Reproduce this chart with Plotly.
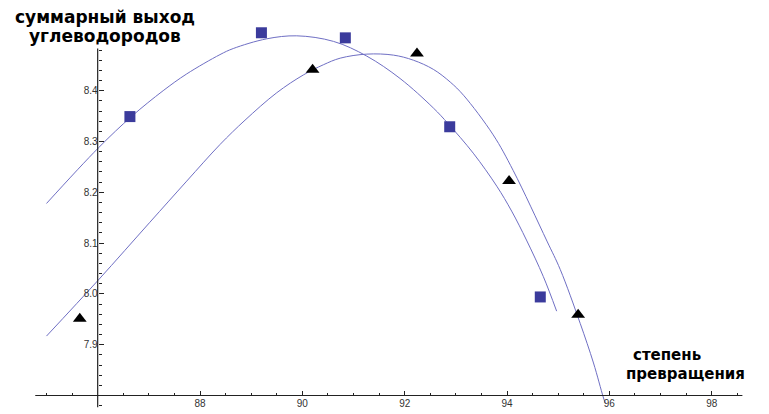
import numpy as np
import plotly.graph_objects as go

# measured points (squares) and fitted curve
sq_x = [86.63, 89.20, 90.84, 92.88, 94.65]
sq_y = [8.349, 8.514, 8.504, 8.329, 7.994]

tri_x = [85.65, 90.20, 92.24, 94.04, 95.39]
tri_y = [7.951, 8.441, 8.473, 8.222, 7.959]

c1_x = [85.00, 86.01, 86.67, 87.28, 87.74, 88.39, 88.65, 89.30, 89.89, 90.61,
        91.26, 91.91, 92.56, 92.85, 93.34, 93.80, 94.09, 94.38, 94.71, 94.97]
c1_y = [8.178, 8.287, 8.350, 8.400, 8.433, 8.471, 8.483, 8.502, 8.508, 8.497,
        8.468, 8.424, 8.366, 8.335, 8.277, 8.212, 8.163, 8.106, 8.034, 7.966]

c2_x = [85.00, 86.01, 87.02, 87.74, 88.39, 88.88, 89.50, 90.02, 90.41, 90.74,
        91.26, 91.78, 92.17, 92.56, 92.89, 93.15, 93.73, 94.12, 94.78, 95.04,
        95.43, 95.69, 95.88, 95.92]
c2_y = [7.917, 8.027, 8.141, 8.222, 8.294, 8.342, 8.396, 8.431, 8.451, 8.464,
        8.472, 8.470, 8.460, 8.442, 8.417, 8.391, 8.313, 8.243, 8.104, 8.048,
        7.942, 7.864, 7.797, 7.785]

x_ticks = [88, 90, 92, 94, 96, 98]
x_ticklabels = ["88", "90", "92", "94", "96", "98"]
y_ticks = [7.9, 8.0, 8.1, 8.2, 8.3, 8.4]
y_ticklabels = ["7.9", "8.0", "8.1", "8.2", "8.3", "8.4"]

y_title = ["суммарный выход", "углеводородов"]
x_title = ["степень", "превращения"]

X0, Y0 = 86.0, 7.8
XR = [84.091, 99.12]
YR = [7.7636, 8.5785]

line_col = "#6f6fc4"
sq_col = "#3b3b9c"

fig = go.Figure()
fig.add_trace(go.Scatter(x=c1_x, y=c1_y, mode="lines", line=dict(color=line_col, width=1, shape="spline"),
                         hoverinfo="skip"))
fig.add_trace(go.Scatter(x=c2_x, y=c2_y, mode="lines", line=dict(color=line_col, width=1, shape="spline"),
                         hoverinfo="skip"))
fig.add_trace(go.Scatter(x=sq_x, y=sq_y, mode="markers",
                         marker=dict(symbol="square", size=11, color=sq_col)))
fig.add_trace(go.Scatter(x=tri_x, y=tri_y, mode="markers",
                         marker=dict(symbol="triangle-up", size=12, color="black")))

# axis lines
fig.add_shape(type="line", x0=84.78, x1=98.6, y0=Y0, y1=Y0, line=dict(color="#222", width=1.2), layer="above")
fig.add_shape(type="line", x0=X0, x1=X0, y0=7.777, y1=8.483, line=dict(color="#222", width=1.2), layer="above")

xminor = [v for v in np.arange(85.0, 98.6, 0.5) if abs(v / 2 - round(v / 2)) > 1e-6]
yminor = [round(v, 2) for v in np.arange(7.78, 8.481, 0.02) if abs(v * 10 - round(v * 10)) > 1e-6]

fig.update_xaxes(range=XR, showgrid=False, zeroline=False, showline=False,
                 anchor="free", position=(Y0 - YR[0]) / (YR[1] - YR[0]),
                 tickmode="array", tickvals=x_ticks, ticktext=x_ticklabels,
                 ticks="inside", ticklen=5, tickcolor="#222", tickwidth=1,
                 tickfont=dict(family="Liberation Sans", size=10, color="#333"),
                 minor=dict(tickmode="array", tickvals=xminor, ticks="inside", ticklen=3,
                            tickcolor="#222", tickwidth=1, showgrid=False),
                 automargin=False)
fig.update_yaxes(range=YR, showgrid=False, zeroline=False, showline=False,
                 anchor="free", position=(X0 - XR[0]) / (XR[1] - XR[0]),
                 tickmode="array", tickvals=y_ticks, ticktext=y_ticklabels,
                 ticks="inside", ticklen=5, tickcolor="#222", tickwidth=1,
                 tickfont=dict(family="Liberation Sans", size=10, color="#333"),
                 minor=dict(tickmode="array", tickvals=yminor, ticks="inside", ticklen=3,
                            tickcolor="#222", tickwidth=1, showgrid=False),
                 automargin=False)

tfont = dict(family="DejaVu Sans", size=17, color="black")
fig.add_annotation(xref="paper", yref="paper", x=105 / 769, y=1 - 17 / 414, text="<b>%s</b>" % y_title[0],
                   showarrow=False, font=tfont, xanchor="center", yanchor="middle")
fig.add_annotation(xref="paper", yref="paper", x=105 / 769, y=1 - 36 / 414, text="<b>%s</b>" % y_title[1],
                   showarrow=False, font=tfont, xanchor="center", yanchor="middle")
bfont = dict(family="DejaVu Sans", size=15, color="black")
fig.add_annotation(xref="paper", yref="paper", x=631 / 769, y=1 - 355 / 414, text="<b>%s</b>" % x_title[0],
                   showarrow=False, font=bfont, xanchor="left", yanchor="middle")
fig.add_annotation(xref="paper", yref="paper", x=624 / 769, y=1 - 374 / 414, text="<b>%s</b>" % x_title[1],
                   showarrow=False, font=bfont, xanchor="left", yanchor="middle")

fig.update_layout(width=769, height=414, margin=dict(l=0, r=0, t=0, b=0),
                  paper_bgcolor="white", plot_bgcolor="white", showlegend=False)
fig.write_html("out.html")
